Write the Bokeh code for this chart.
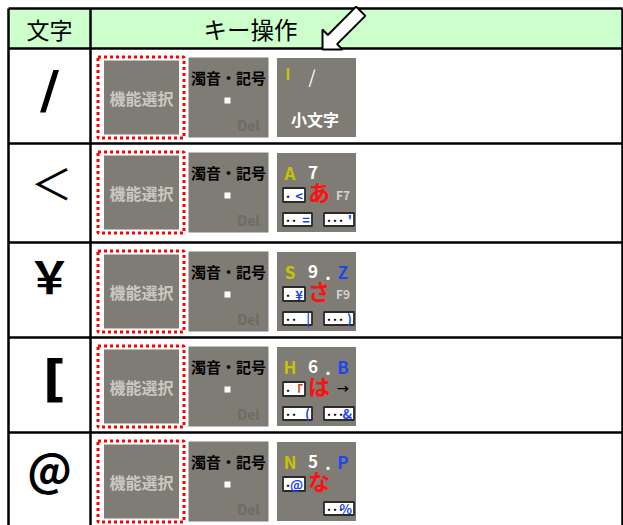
from bokeh.plotting import figure
from bokeh.models import Range1d
from bokeh.embed import file_html
from bokeh.resources import INLINE
from bokeh.core.properties import value
import math

# ---------------- data ----------------
header_labels = ["文字", "キー操作"]
chars = ["/", "＜", "￥", "[", "＠"]
key1_label = "機能選択"
key2_label = "濁音・記号"
key2_del = "Del"
key3_letter = ["I", "A", "S", "H", "N"]
key3_digit = ["/", "7", "9", "6", "5"]
key3_latin = ["", "", "Z", "B", "P"]
key3_kana = ["", "あ", "さ", "は", "な"]
key3_side = ["", "F7", "F9", "→", ""]
key3_caption = ["小文字", "", "", "", ""]
box1_sym = ["", "<", "¥", "「", "@"]
box2_sym = ["", "=", "|", "(", ""]
box3_sym = ["", "'", ")", "&", "%"]
box_dots = ["･", "･･", "･･･"]

# ---------------- layout / style ----------------
W, H = 623, 525
row_tops = [48, 143, 242, 337, 432]
row_bottom_last = 530
col_x = [8, 90, 622]
header_top, header_bottom = 8, 48

char_font = ["DejaVu Sans", "Noto Sans CJK JP", "Noto Sans CJK JP", "DejaVu Sans", "Noto Sans CJK JP"]
char_size = [52, 42, 44, 50, 44]
char_bold = [True, False, True, True, True]
char_dx = [0, 2, 0, 5, 0]
char_dy = [-6, -12, -15, -6, -10]

FONT = "Noto Sans CJK JP"
KEY_GRAY = "#7f7c75"
YELLOW = "#c8c400"
BLUE = "#1e46f0"
RED = "#ff1010"

p = figure(width=W, height=H, output_backend="svg", toolbar_location=None,
           x_range=Range1d(0, W), y_range=Range1d(H, 0),
           x_axis_type=None, y_axis_type=None, min_border=0,
           background_fill_color="white", border_fill_color="white")
p.outline_line_color = None
p.grid.visible = False

def txt(xs, ys, texts, size, color="black", bold=False, align="center",
        baseline="middle", font=FONT):
    p.text(x=xs, y=ys, text=texts, text_font=value(font),
           text_font_size=f"{size}px", text_color=color,
           text_font_style="bold" if bold else "normal",
           text_align=align, text_baseline=baseline)

# header background
p.quad(left=[col_x[0]], right=[col_x[-1]], top=[header_top],
       bottom=[header_bottom], fill_color="#ccffcc", line_color=None)

# header texts
txt([49], [28], [header_labels[0]], 23)
txt([250], [28], [header_labels[1]], 23.5)

# row geometry
row_bottoms = row_tops[1:] + [row_bottom_last]
row_centers = [(a + b) / 2 for a, b in zip(row_tops, row_bottoms)]
key_cy = [t + 49 for t in row_tops]

# column-1 characters
for i, ch in enumerate(chars):
    txt([49 + char_dx[i]], [row_centers[i] + char_dy[i]], [ch], char_size[i],
        bold=char_bold[i], font=char_font[i])

# ---- key 1 : 機能選択 with red dotted frame ----
n = len(chars)
p.rect(x=[140.5] * n, y=key_cy, width=86, height=81, fill_color=None,
       line_color="#ff0000", line_width=3, line_dash="3 3")
p.rect(x=[141] * n, y=key_cy, width=75, height=74, fill_color=KEY_GRAY,
       line_color=None)
txt([141] * n, key_cy, [key1_label] * n, 16, color="#c9c7c1", bold=True)

# ---- key 2 : 濁音・記号 ----
p.rect(x=[228] * n, y=key_cy, width=80, height=80, fill_color=KEY_GRAY,
       line_color=None)
txt([228] * n, [c - 20 for c in key_cy], [key2_label] * n, 15, bold=True)
p.rect(x=[227] * n, y=[c + 3 for c in key_cy], width=6, height=6,
       fill_color="white", line_color=None)
txt([248] * n, [c + 27 for c in key_cy], [key2_del] * n, 14,
    color="#6d6b65", bold=True)

# ---- key 3 ----
kx = 276.5
kys = [c - 39.5 for c in key_cy]
p.rect(x=[316] * n, y=key_cy, width=79, height=79, fill_color=KEY_GRAY,
       line_color=None)

for i in range(n):
    ky = kys[i]
    if i == 0:
        txt([kx + 11], [ky + 15], [key3_letter[i]], 16, color=YELLOW, bold=True)
        txt([kx + 35], [ky + 18], [key3_digit[i]], 18, color="white")
    else:
        txt([kx + 13], [ky + 19], [key3_letter[i]], 17, color=YELLOW, bold=True)
        txt([kx + 36], [ky + 19], [key3_digit[i]], 17, color="white", bold=True)
    if key3_latin[i]:
        txt([kx + 51], [ky + 21], ["."], 17, color="white", bold=True)
        txt([kx + 66], [ky + 19], [key3_latin[i]], 17, color=BLUE, bold=True)
    if key3_kana[i]:
        txt([kx + 42], [ky + 38], [key3_kana[i]], 22, color=RED, bold=True)
    if key3_side[i]:
        col = "black" if key3_side[i] == "→" else "#d2d2d2"
        txt([kx + 66], [ky + 41], [key3_side[i]], 12, color=col, bold=True)
    if key3_caption[i]:
        txt([kx + 38], [ky + 61], [key3_caption[i]], 16, color="white", bold=True)
    boxes = [(box1_sym[i], 6, 28, 35, 49, box_dots[0]),
             (box2_sym[i], 6, 35, 60, 73, box_dots[1]),
             (box3_sym[i], 47, 77, 60, 73, box_dots[2])]
    for sym, l, r, t, b, dots in boxes:
        if not sym:
            continue
        p.quad(left=[kx + l], right=[kx + r], top=[ky + t], bottom=[ky + b],
               fill_color="white", line_color="#2a2a2a", line_width=1.8)
        txt([kx + l + 2], [ky + (t + b) / 2 + 1], [dots], 12, bold=True, align="left")
        scol = "#d04010" if sym == "「" else BLUE
        txt([kx + r - 2], [ky + (t + b) / 2], [sym], 13, color=scol, bold=True,
            align="right")

# ---- arrow in header ----
tip = (322.0, 49.0)
head_len, head_half, shaft_half, shaft_len = 14.1, 14.1, 6.5, 40.0
u = (-1 / math.sqrt(2), 1 / math.sqrt(2))
nv = (1 / math.sqrt(2), 1 / math.sqrt(2))
B = (tip[0] - head_len * u[0], tip[1] - head_len * u[1])
C = (B[0] - shaft_len * u[0], B[1] - shaft_len * u[1])
def off(pt, k):
    return (pt[0] + k * nv[0], pt[1] + k * nv[1])
pts = [tip, off(B, head_half), off(B, shaft_half), off(C, shaft_half),
       off(C, -shaft_half), off(B, -shaft_half), off(B, -head_half)]

# ---- table lines ----
hl = [header_top, header_bottom] + row_tops[1:]
p.segment(x0=[col_x[0]] * len(hl), x1=[col_x[-1]] * len(hl), y0=hl, y1=hl,
          line_color="black", line_width=2.5)
p.segment(x0=col_x, x1=col_x, y0=[header_top] * 3, y1=[row_bottom_last] * 3,
          line_color="black", line_width=2.5)
p.patch(x=[q[0] for q in pts], y=[q[1] for q in pts], fill_color="white",
        line_color="black", line_width=2)

open("out.html", "w").write(file_html(p, INLINE))
